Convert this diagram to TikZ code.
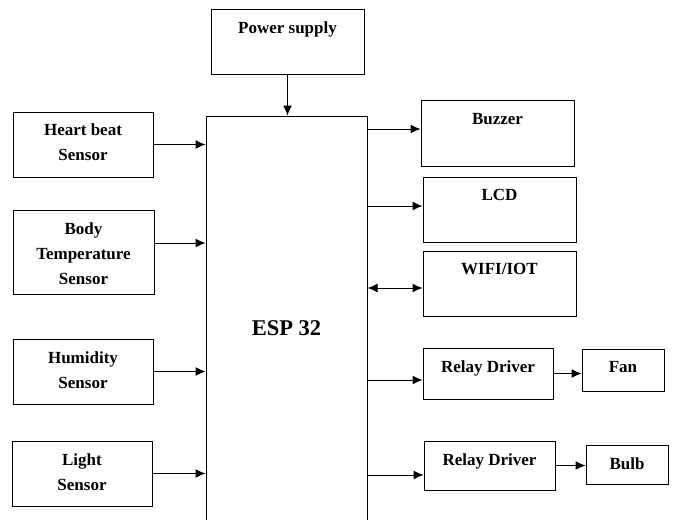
\documentclass[tikz,border=0pt]{standalone}
\usepackage{fontspec}
\setmainfont{Liberation Serif}
\usetikzlibrary{arrows.meta,calc}

\begin{document}
\begin{tikzpicture}[x=1pt,y=-1pt,
  box/.style 2 args={draw,line width=1pt,inner sep=0pt,minimum width=#1pt,minimum height=#2pt},
  txt/.style={anchor=north,inner sep=0pt,align=center,font=\bfseries\fontsize{17}{25}\selectfont},
  arr/.style={line width=1pt,-{Latex[length=10pt,width=9pt]}}]
\clip (0,0) rectangle (673,520);
% Controlador
\node[box={161}{424},font=\bfseries\fontsize{22.5}{26}\selectfont] (esp) at (286.5,328) {ESP 32};
% Alimentacao
\node[box={153}{65}] (power) at (287.5,41.5) {};
\node[txt] (power-t) at ([yshift=-13pt]power.north) {Power supply};
% Sensores
\node[box={140}{65}] (heart) at (83,144.5) {};
\node[txt] (heart-t) at ([yshift=-12.5pt]heart.north) {Heart beat\\Sensor};
\node[box={141}{84}] (body) at (83.5,252) {};
\node[txt] (body-t) at ([yshift=-13pt]body.north) {Body\\Temperature\\Sensor};
\node[box={140}{65}] (humid) at (83,371.5) {};
\node[txt] (humid-t) at ([yshift=-12.5pt]humid.north) {Humidity\\Sensor};
\node[box={140}{65}] (light) at (82,473.5) {};
\node[txt] (light-t) at ([yshift=-12.5pt]light.north) {Light\\Sensor};
% Saidas
\node[box={153}{66}] (buzzer) at (497.5,133) {};
\node[txt] (buzzer-t) at ([yshift=-13.5pt]buzzer.north) {Buzzer};
\node[box={153}{65}] (lcd) at (499.5,209.5) {};
\node[txt] (lcd-t) at ([yshift=-13pt]lcd.north) {LCD};
\node[box={153}{65}] (wifi) at (499.5,283.5) {};
\node[txt] (wifi-t) at ([yshift=-13pt]wifi.north) {WIFI/IOT};
\node[box={130}{51}] (relay1) at (488,373.5) {};
\node[txt] (relay1-t) at ([yshift=-13pt]relay1.north) {Relay Driver};
\node[box={82}{42}] (fan) at (623,370) {};
\node[txt] (fan-t) at ([yshift=-12.5pt]fan.north) {Fan};
\node[box={131}{49}] (relay2) at (489.5,465.5) {};
\node[txt] (relay2-t) at ([yshift=-12.5pt]relay2.north) {Relay Driver};
\node[box={82}{39}] (bulb) at (627,464.5) {};
\node[txt] (bulb-t) at ([yshift=-12.5pt]bulb.north) {Bulb};
% Ligacoes
\draw[arr] (power.south) -- (power.south |- esp.north);
\draw[arr] (heart.east) -- (heart.east -| esp.west);
\draw[arr] ($(body.east)+(0,-9)$) -- ($(body.east -| esp.west)+(0,-9)$);
\draw[arr] (humid.east) -- (humid.east -| esp.west);
\draw[arr] (light.east) -- (light.east -| esp.west);
\draw[arr] ($(esp.east |- buzzer.west)+(0,-4)$) -- ($(buzzer.west)+(0,-4)$);
\draw[arr] ($(esp.east |- lcd.west)+(0,-3.5)$) -- ($(lcd.west)+(0,-3.5)$);
\draw[arr,{Latex[length=10pt,width=9pt]}-{Latex[length=10pt,width=9pt]}] ($(esp.east |- wifi.west)+(0,4.5)$) -- ($(wifi.west)+(0,4.5)$);
\draw[arr] ($(esp.east |- relay1.west)+(0,6.5)$) -- ($(relay1.west)+(0,6.5)$);
\draw[arr] (relay1.east) -- (relay1.east -| fan.west);
\draw[arr] ($(esp.east |- relay2.west)+(0,9.5)$) -- ($(relay2.west)+(0,9.5)$);
\draw[arr] (relay2.east) -- (relay2.east -| bulb.west);
\end{tikzpicture}
\end{document}
